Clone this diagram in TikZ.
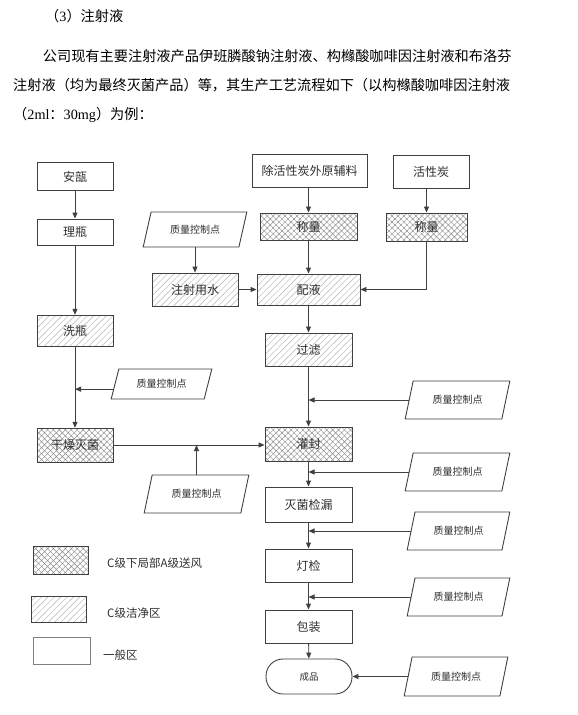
\documentclass[tikz,border=0pt]{standalone}
\usepackage{fontspec}
\setmainfont{Liberation Serif}
\newfontfamily\cjk{Noto Sans CJK SC}
\usetikzlibrary{arrows.meta,shapes.geometric,patterns.meta,calc}
\definecolor{linec}{HTML}{404040}
\definecolor{txtc}{HTML}{303030}
\definecolor{hatchc}{HTML}{B4B4B4}
\definecolor{crossc}{HTML}{8C8C8C}
\tikzset{
  box/.style={draw=linec,line width=0.9pt,inner sep=0pt,text=txtc,
    font=\cjk\fontsize{12}{14}\selectfont},
  hatchbox/.style={box,pattern={Lines[angle=45,distance=4.5pt,line width=0.45pt]},pattern color=hatchc},
  crossbox/.style={box,pattern={Hatch[angle=45,distance=4.2pt,line width=0.45pt]},pattern color=crossc},
  qc/.style={trapezium,trapezium left angle=64,trapezium right angle=116,
    trapezium stretches=true,draw=linec,line width=0.9pt,inner sep=0pt,text=txtc,
    font=\cjk\fontsize{10}{12}\selectfont},
  arr/.style={draw=linec,line width=0.9pt,-{Triangle[length=6pt,width=5pt]}},
  para/.style={anchor=west,inner sep=0pt,text=black,font=\fontsize{14.2}{17}\selectfont},
  legtxt/.style={anchor=west,inner sep=0pt,text=txtc,font=\cjk\fontsize{11.5}{13}\selectfont}
}
\begin{document}
\begin{tikzpicture}[x=1pt,y=-1pt]
\fill[white] (0,0) rectangle (578,715);
\useasboundingbox (0,0) rectangle (578,715);
% heading and paragraph
\node[para] (t0) at (45,16.5) {{\cjk （}3{\cjk ）注射液}};
\node[para] (t1) at (42.7,56) {\cjk 公司现有主要注射液产品伊班膦酸钠注射液、构橼酸咖啡因注射液和布洛芬};
\node[para] (t2) at (13,85.5) {\cjk 注射液（均为最终灭菌产品）等，其生产工艺流程如下（以构橼酸咖啡因注射液};
\node[para] (t3) at (13,115) {{\cjk （}2ml{\cjk ：}30mg{\cjk ）为例：}};
% left column
\node[box,minimum width=76,minimum height=28] (aan) at (75,176.5) {安瓿};
\node[box,minimum width=76,minimum height=26] (lp) at (75,232) {理瓶};
\node[hatchbox,minimum width=76,minimum height=31] (xp) at (75,330.5) {洗瓶};
\node[crossbox,minimum width=76,minimum height=34] (gz) at (75,445) {干燥灭菌};
\node[qc,minimum width=101,minimum height=30] (qcL) at (161.5,384) {质量控制点};
\node[qc,minimum width=105,minimum height=38] (qcB) at (196.5,494) {质量控制点};
% middle / top
\node[box,minimum width=115,minimum height=33] (fl) at (309.5,170.5) {除活性炭外原辅料};
\node[box,minimum width=76,minimum height=33] (hxt) at (431,171.5) {活性炭};
\node[crossbox,minimum width=97,minimum height=27] (clL) at (308.5,226.5) {称量};
\node[crossbox,minimum width=81,minimum height=28] (clR) at (426.5,227) {称量};
\node[qc,minimum width=104,minimum height=35] (qcTL) at (195,229.5) {质量控制点};
\node[hatchbox,minimum width=86,minimum height=33] (zsys) at (195,289.5) {注射用水};
\node[hatchbox,minimum width=103,minimum height=31] (px) at (308.5,289.5) {配液};
\node[hatchbox,minimum width=87,minimum height=33] (gl) at (308.5,349.5) {过滤};
\node[crossbox,minimum width=87,minimum height=34] (gf) at (308.5,444) {灌封};
\node[box,minimum width=87,minimum height=35] (mj) at (308.5,504.5) {灭菌检漏};
\node[box,minimum width=87,minimum height=33] (dj) at (308.5,565.5) {灯检};
\node[box,minimum width=87,minimum height=33] (bz) at (308.5,626.5) {包装};
\node[box,rounded corners=17pt,minimum width=86,minimum height=35,
  font=\cjk\fontsize{9.5}{11}\selectfont] (cp) at (309,676.5) {成品};
% right QC points
\node[qc,minimum width=105,minimum height=38] (qcR1) at (457.5,400) {质量控制点};
\node[qc,minimum width=105,minimum height=38] (qcR2) at (457.5,472) {质量控制点};
\node[qc,minimum width=103,minimum height=38] (qcR3) at (458.5,531) {质量控制点};
\node[qc,minimum width=103,minimum height=38] (qcR4) at (458.5,597) {质量控制点};
\node[qc,minimum width=104,minimum height=39] (qcR5) at (456,676.5) {质量控制点};
% legend
\node[crossbox,minimum width=55,minimum height=28] (legX) at (60.5,560) {};
\node[hatchbox,minimum width=55,minimum height=26] (legH) at (58.5,609) {};
\node[box,draw=gray,minimum width=57,minimum height=27] (legP) at (61.5,650.5) {};
\node[legtxt] (legXt) at (107,563) {C级下局部A级送风};
\node[legtxt] (legHt) at (107,613) {C级洁净区};
\node[legtxt] (legPt) at (103,655) {一般区};
% connectors left
\draw[arr] (aan) -- (lp);
\draw[arr] (lp) -- (xp);
\draw[arr] (xp) -- (gz);
\coordinate (qcLp) at ($(qcL.bottom left corner)!0.333!(qcL.top left corner)$);
\draw[arr] (qcLp) -- (qcLp -| xp);
\draw[arr] (gz.east) -- (gz.east -| gf.west);
\draw[arr] (qcB.north) -- (qcB.north |- gz.east);
% connectors middle
\draw[arr] (clL.north |- fl.south) -- (clL.north);
\draw[arr] (clR.north |- hxt.south) -- (clR.north);
\draw[arr] (clL) -- (px);
\draw[arr] (clR.south) |- (px.east);
\draw[arr] (qcTL.south) -- (qcTL.south |- zsys.north);
\draw[arr] (zsys.east) -- (zsys.east -| px.west);
\draw[arr] (px) -- (gl);
\draw[arr] (gl) -- (gf);
\draw[arr] (gf) -- (mj);
\draw[arr] (mj) -- (dj);
\draw[arr] (dj) -- (bz);
\draw[arr] (bz) -- (cp);
% QC arrows right
\draw[arr] (qcR1.west) -- (qcR1.west -| gl);
\draw[arr] (qcR2.west) -- (qcR2.west -| gf);
\draw[arr] (qcR3.west) -- (qcR3.west -| mj);
\draw[arr] (qcR4.west) -- (qcR4.west -| dj);
\draw[arr] (qcR5.west) -- (qcR5.west -| cp.east);
\end{tikzpicture}
\end{document}
